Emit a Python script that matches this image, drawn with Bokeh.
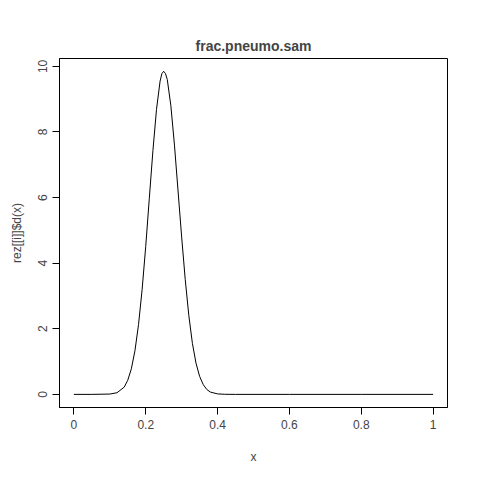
from bokeh.plotting import figure
from bokeh.embed import file_html
from bokeh.resources import INLINE
from bokeh.models import Range1d, FixedTicker

xs = [0.0, 0.05, 0.10, 0.12, 0.14, 0.15, 0.16, 0.17, 0.18, 0.19, 0.20, 0.21, 0.22, 0.23, 0.24, 0.245, 0.25, 0.255,
      0.26, 0.27, 0.28, 0.29, 0.30, 0.31, 0.32, 0.33, 0.34, 0.35, 0.36, 0.37, 0.38, 0.40, 0.42, 0.45, 0.6, 0.8, 1.0]
ys = [0.0, 0.0, 0.01, 0.05, 0.22, 0.43, 0.78, 1.33, 2.13, 3.20, 4.51, 5.98, 7.43, 8.69, 9.55, 9.78, 9.85, 9.78,
      9.6, 8.8, 7.6, 6.2, 4.8, 3.5, 2.4, 1.55, 0.95, 0.55, 0.3, 0.15, 0.07, 0.015, 0.003, 0.0, 0.0, 0.0, 0.0]
xticks = [0.0, 0.2, 0.4, 0.6, 0.8, 1.0]
yticks = [0, 2, 4, 6, 8, 10]

p = figure(width=472, height=472, output_backend="svg", toolbar_location=None,
           x_range=Range1d(-0.04, 1.04), y_range=Range1d(-0.4, 10.24),
           min_border_left=59, min_border_right=25, min_border_top=58, min_border_bottom=65,
           title="frac.pneumo.sam")
p.line(xs, ys, line_color="black", line_width=1)
p.title.align = "center"
p.title.text_font = "Liberation Sans"
p.title.text_font_size = "14px"
p.title.text_font_style = "bold"
p.title.offset = 0
p.grid.visible = False
p.outline_line_color = "black"
p.xaxis.ticker = FixedTicker(ticks=xticks)
p.yaxis.ticker = FixedTicker(ticks=yticks)
p.yaxis.major_label_orientation = "vertical"
p.xaxis.axis_label = "x"
p.yaxis.axis_label = "rez[[i]]$d(x)"
p.xaxis.axis_label_standoff = 18
p.yaxis.axis_label_standoff = 12
for ax in (p.xaxis[0], p.yaxis[0]):
    ax.minor_tick_line_color = None
    ax.major_tick_in = 0
    ax.major_tick_out = 7
    ax.major_label_text_font = "Liberation Sans"
    ax.major_label_text_font_size = "12px"
    ax.axis_label_text_font = "Liberation Sans"
    ax.axis_label_text_font_size = "12px"
    ax.axis_label_text_font_style = "normal"
    ax.major_tick_line_color = "black"
    ax.axis_line_color = "black"
open("out.html", "w").write(file_html(p, INLINE))
